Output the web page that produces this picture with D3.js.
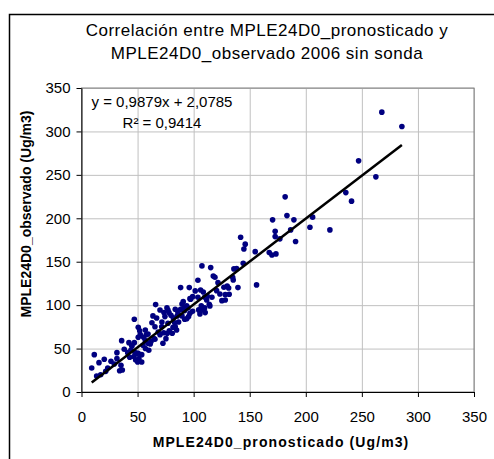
<!DOCTYPE html>
<html>
<head>
<meta charset="utf-8">
<script src="https://cdn.jsdelivr.net/npm/d3@7"></script>
<style>
  body { margin: 0; background: #fff; }
  svg text { font-family: "Liberation Sans", Arial, sans-serif; fill: #000; }
  .grid line { stroke: #c0c0c0; stroke-width: 1; }
  .axis path, .axis line { stroke: #000; }
  .axis text { font-size: 15px; }
  .axis-label { font-size: 14px; font-weight: bold; }
</style>
</head>
<body>
<div id="chart"></div>
<script>
// MPLE24D0 pronosticado (x) vs observado (y)
const pronosticado = [
  267.8, 285.7, 247.1, 262.5, 235.7, 240.8, 181.6, 170.4, 183.2, 189.4, 206.1, 172.7, 186.5, 203.7, 221.5, 172.7, 176.9, 190.9,
  141.9, 146, 144.8, 154.9, 167.4, 169.8, 173.4, 144.2, 135.9, 138.3, 107.4, 115.2, 117.5, 119, 134.8, 135.3, 103.8, 121.7,
  156.1, 127, 129.9, 131.2, 139.5, 88.4, 96.1, 101.4, 106.2, 108.6, 120.5, 123.4, 131.7, 97.3, 103.8, 109.8, 111.6, 128.2,
  90.7, 89.6, 113.9, 106.8, 109.8, 93.8, 91.4, 96.7, 99.1, 125.2, 114.5, 112.1, 116.3, 128.2,
  88.4, 92, 94.9, 96.7, 99.1, 104.5, 105.6, 108.6, 110.3, 85.4, 89.6, 92, 93.8, 95.5, 86.6, 83.6, 84.8,
  76.5, 78.3, 64.6, 75.3, 70,
  66.1, 76.2, 78, 79.8, 74.4, 47.1, 63.7, 65.5, 71.5, 68.4, 73.3, 50.6, 51.9, 52.4, 57.8, 55.4, 50.6, 81.6, 80.9,
  35.8, 42.3, 47.1, 44.7, 54.8, 61.3, 65.5, 72.6, 31.6, 38.1, 41.2, 47.7, 50.6, 53.7, 43, 48.3, 51.2, 53.7, 50.1,
  11.4, 15.6, 20.3, 9.1, 26.3, 29.2, 31.6, 35.2, 36.4, 34, 23.4, 21.6, 17.1, 13.5,
  71.7, 77.1, 83.1, 81.8, 62.8,
  56.9, 59.3, 56.9, 59.3, 45, 49.2, 46.8, 57, 60, 62, 44,
  67, 70, 73.5, 77.1, 83.6, 86
];
const observado = [
  322.2, 305.6, 266.1, 247.7, 229.6, 219.7, 224.7, 198.2, 203.1, 198.2, 201.3, 185.1, 186.6, 189.7, 186.6, 178.9, 176.3, 173.2,
  178.2, 170.2, 164.7, 161.6, 160.5, 157.8, 159, 148.3, 141.7, 142, 145.2, 143.2, 133.6, 132.1, 132.1, 129, 128.7, 125.9,
  123.3, 120.6, 122.1, 119.8, 120.2, 120.2, 120.2, 116.4, 117.5, 115.2, 116.7, 112.9, 112.6, 106.8, 109.1, 109.1, 106, 106,
  104, 101.4, 101, 99.1, 96.8, 99.1, 97.1, 107.5, 109.8, 105.2, 99.1, 110.6, 109.1, 112.1,
  95.3, 93.7, 96.8, 90.7, 93, 94.5, 89.9, 94.5, 91.4, 87.6, 87.6, 83.8, 84.4, 86.8, 80.6, 75.2, 71.4,
  67.6, 70.6, 61.4, 61.4, 66,
  100.6, 96.8, 91.4, 88.4, 86.8, 83.8, 87.6, 75.2, 75.2, 69.1, 68.3, 74.5, 70.6, 66, 66, 63, 63, 74.5, 67.6,
  59.1, 56.8, 56.8, 53.8, 53.8, 55.3, 60.7, 56.1, 45.3, 49.2, 45.3, 45.3, 44.6, 43, 40, 36.9, 38.4, 34.6, 34.6,
  43, 33.8, 37.7, 27.6, 35.4, 32.3, 38.4, 30.8, 25.3, 24.5, 27.6, 23.8, 19.9, 18.4,
  80.6, 79.1, 79.8, 85.3, 79.8,
  71.4, 66.8, 59.1, 56.1, 53, 44.5, 40.7, 50, 48, 58, 48,
  85.2, 94.4, 91.4, 94.4, 95.2, 91.4
];
const tickValues = [0, 50, 100, 150, 200, 250, 300, 350];
const slope = 0.9879;
const intercept = 2.0785;
const titleLines = ["Correlación entre MPLE24D0_pronosticado y", "MPLE24D0_observado 2006 sin sonda"];
const eqLines = ["y = 0,9879x + 2,0785", "R² = 0,9414"];

const width = 494, height = 459;
const plot = { left: 81.5, right: 474, top: 88, bottom: 392 };

const svg = d3.select("#chart").append("svg")
  .attr("width", width)
  .attr("height", height);

// outer chart border
svg.append("rect")
  .attr("x", 9.5).attr("y", 14.5)
  .attr("width", 520).attr("height", 470)
  .attr("fill", "#fff")
  .attr("stroke", "#000").attr("stroke-width", 1.5);

const x = d3.scaleLinear().domain([0, 350]).range([plot.left, plot.right]);
const y = d3.scaleLinear().domain([0, 350]).range([plot.bottom, plot.top]);

// gridlines
svg.append("g").attr("class", "grid")
  .attr("transform", `translate(0,${plot.bottom})`)
  .call(d3.axisBottom(x).tickValues(tickValues.slice(1)).tickSize(-(plot.bottom - plot.top)).tickFormat(""))
  .call(g => g.select(".domain").remove());
svg.append("g").attr("class", "grid")
  .attr("transform", `translate(${plot.left},0)`)
  .call(d3.axisLeft(y).tickValues(tickValues.slice(1)).tickSize(-(plot.right - plot.left)).tickFormat(""))
  .call(g => g.select(".domain").remove());

// plot area border
svg.append("rect")
  .attr("x", plot.left).attr("y", plot.top)
  .attr("width", plot.right - plot.left).attr("height", plot.bottom - plot.top)
  .attr("fill", "none").attr("stroke", "#808080");

// axes
svg.append("g").attr("class", "axis")
  .attr("transform", `translate(0,${plot.bottom})`)
  .call(d3.axisBottom(x).tickValues(tickValues).tickSize(5).tickPadding(14).tickSizeOuter(0))
  .call(g => g.selectAll("text").attr("dy", "0.71em"));
svg.append("g").attr("class", "axis")
  .attr("transform", `translate(${plot.left},0)`)
  .call(d3.axisLeft(y).tickValues(tickValues).tickSize(5).tickPadding(6).tickSizeOuter(0));

// points
svg.append("g")
  .selectAll("circle")
  .data(pronosticado.map((v, i) => [v, observado[i]]))
  .join("circle")
  .attr("cx", d => x(d[0]))
  .attr("cy", d => y(d[1]))
  .attr("r", 2.8)
  .attr("fill", "#000080");

// linear trendline
const xExt = d3.extent(pronosticado);
svg.append("line")
  .attr("x1", x(xExt[0])).attr("y1", y(slope * xExt[0] + intercept))
  .attr("x2", x(xExt[1])).attr("y2", y(slope * xExt[1] + intercept))
  .attr("stroke", "#000").attr("stroke-width", 2.5);

// equation
svg.append("text").attr("x", 162).attr("y", 107).attr("text-anchor", "middle")
  .style("font-size", "15px").text(eqLines[0]);
svg.append("text").attr("x", 162).attr("y", 128).attr("text-anchor", "middle")
  .style("font-size", "15px").text(eqLines[1]);

// title
svg.selectAll(".title").data(titleLines).join("text")
  .attr("class", "title")
  .attr("x", 267).attr("y", (d, i) => 36 + i * 23)
  .attr("text-anchor", "middle")
  .style("font-size", "17px")
  .style("letter-spacing", "0.5px")
  .text(d => d);

// axis labels
svg.append("text").attr("class", "axis-label")
  .attr("x", 281).attr("y", 447)
  .attr("text-anchor", "middle")
  .style("letter-spacing", "1.1px")
  .text("MPLE24D0_pronosticado (Ug/m3)");
svg.append("text").attr("class", "axis-label")
  .attr("transform", "translate(31,214) rotate(-90)")
  .attr("text-anchor", "middle")
  .text("MPLE24D0_observado (Ug/m3)");
</script>
</body>
</html>
